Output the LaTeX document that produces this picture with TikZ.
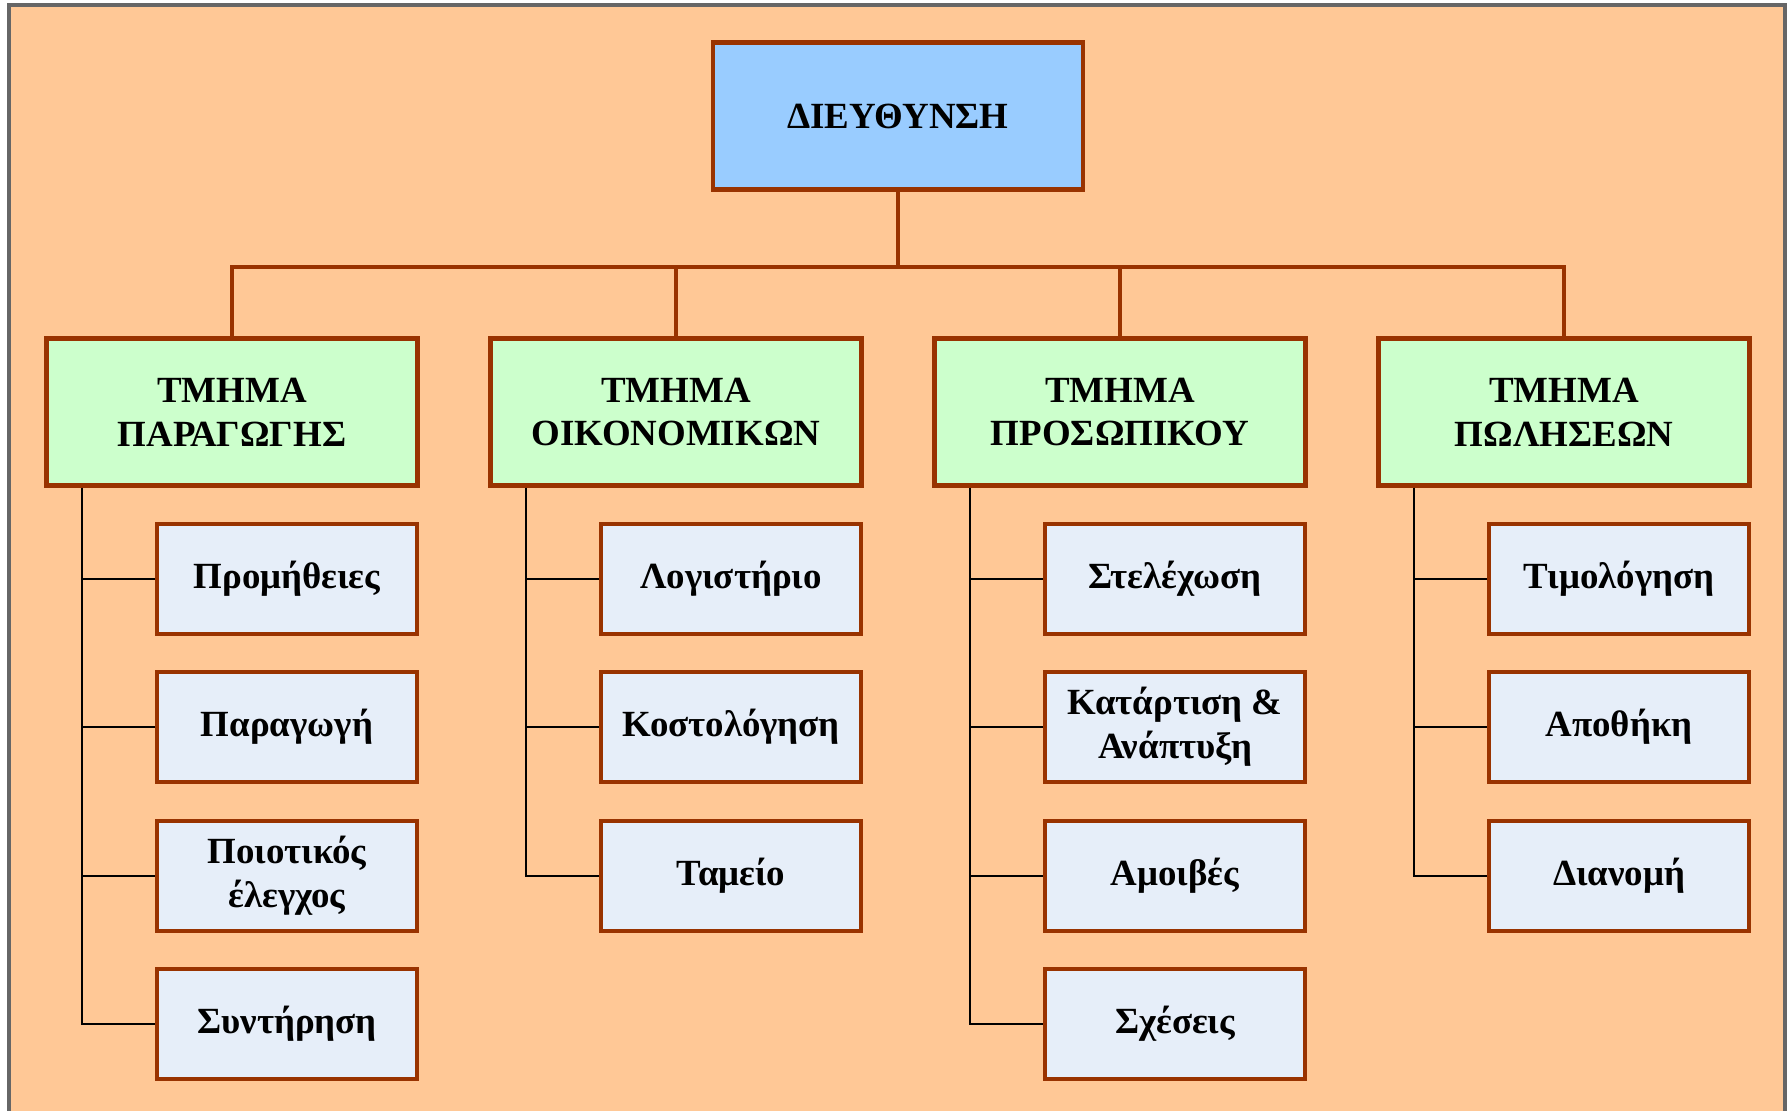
\documentclass[tikz,border=0pt]{standalone}
\usepackage{fontspec}
\setmainfont{Liberation Serif}
\usepackage{tikz}

\definecolor{peach}{HTML}{FFC896}
\definecolor{frameGray}{HTML}{666666}
\definecolor{rootBlue}{HTML}{99CCFF}
\definecolor{deptGreen}{HTML}{CCFFCC}
\definecolor{unitBlue}{HTML}{E6EEF9}
\definecolor{rust}{HTML}{993300}

\begin{document}
\begin{tikzpicture}[x=0.1mm, y=-0.1mm,
    box/.style={draw=rust, line width=1.4pt, align=center,
      font=\fontsize{10.5}{12.5}\selectfont\bfseries, inner sep=2pt},
    rootbox/.style={box, fill=rootBlue, minimum width=37mm, minimum height=14.7mm},
    deptbox/.style={box, fill=deptGreen, minimum width=37.1mm, minimum height=14.7mm},
    unitbox/.style={box, fill=unitBlue, minimum width=26mm, minimum height=11mm},
    bus/.style={draw=rust, line width=1.05pt},
    branch/.style={draw=black, line width=0.65pt}]
        % background and frame
        \useasboundingbox (0,0) rectangle (1787,1111);
        \fill[peach] (9,5) rectangle (1785,1130);
        \draw[frameGray, line width=0.9pt] (9,1130) -- (9,5) -- (1785,5) -- (1785,1130);

        % top of the chart
        \node[rootbox] (dir) at (898,116) {ΔΙΕΥΘΥΝΣΗ};

        % the four departments
        \node[deptbox] (prod)  at (232,412)  {ΤΜΗΜΑ\\ΠΑΡΑΓΩΓΗΣ};
        \node[deptbox] (fin)   at (676,412)  {ΤΜΗΜΑ\\ΟΙΚΟΝΟΜΙΚΩΝ};
        \node[deptbox] (staff) at (1120,412) {ΤΜΗΜΑ\\ΠΡΟΣΩΠΙΚΟΥ};
        \node[deptbox] (sales) at (1564,412) {ΤΜΗΜΑ\\ΠΩΛΗΣΕΩΝ};

        % units of production
        \node[unitbox] (prod1) at (287,579)  {Προμήθειες};
        \node[unitbox] (prod2) at (287,727)  {Παραγωγή};
        \node[unitbox] (prod3) at (287,876)  {Ποιοτικός\\έλεγχος};
        \node[unitbox] (prod4) at (287,1024) {Συντήρηση};

        % units of finance
        \node[unitbox] (fin1) at (731,579) {Λογιστήριο};
        \node[unitbox] (fin2) at (731,727) {Κοστολόγηση};
        \node[unitbox] (fin3) at (731,876) {Ταμείο};

        % units of personnel
        \node[unitbox] (staff1) at (1175,579)  {Στελέχωση};
        \node[unitbox] (staff2) at (1175,727)  {Κατάρτιση \&\\Ανάπτυξη};
        \node[unitbox] (staff3) at (1175,876)  {Αμοιβές};
        \node[unitbox] (staff4) at (1175,1024) {Σχέσεις};

        % units of sales
        \node[unitbox] (sales1) at (1619,579) {Τιμολόγηση};
        \node[unitbox] (sales2) at (1619,727) {Αποθήκη};
        \node[unitbox] (sales3) at (1619,876) {Διανομή};

        % connectors from the top box
        \foreach \d in {prod,fin,staff,sales}
            \draw[bus] (dir.south) -- ++(0,-7.5mm) -| (\d.north);

        % connectors to the units
        \foreach \u in {prod1,prod2,prod3,prod4}
            \draw[branch] ([xshift=3.8mm]prod.south west) |- (\u.west);
        \foreach \u in {fin1,fin2,fin3}
            \draw[branch] ([xshift=3.8mm]fin.south west) |- (\u.west);
        \foreach \u in {staff1,staff2,staff3,staff4}
            \draw[branch] ([xshift=3.8mm]staff.south west) |- (\u.west);
        \foreach \u in {sales1,sales2,sales3}
            \draw[branch] ([xshift=3.8mm]sales.south west) |- (\u.west);
    \end{tikzpicture}
\end{document}
